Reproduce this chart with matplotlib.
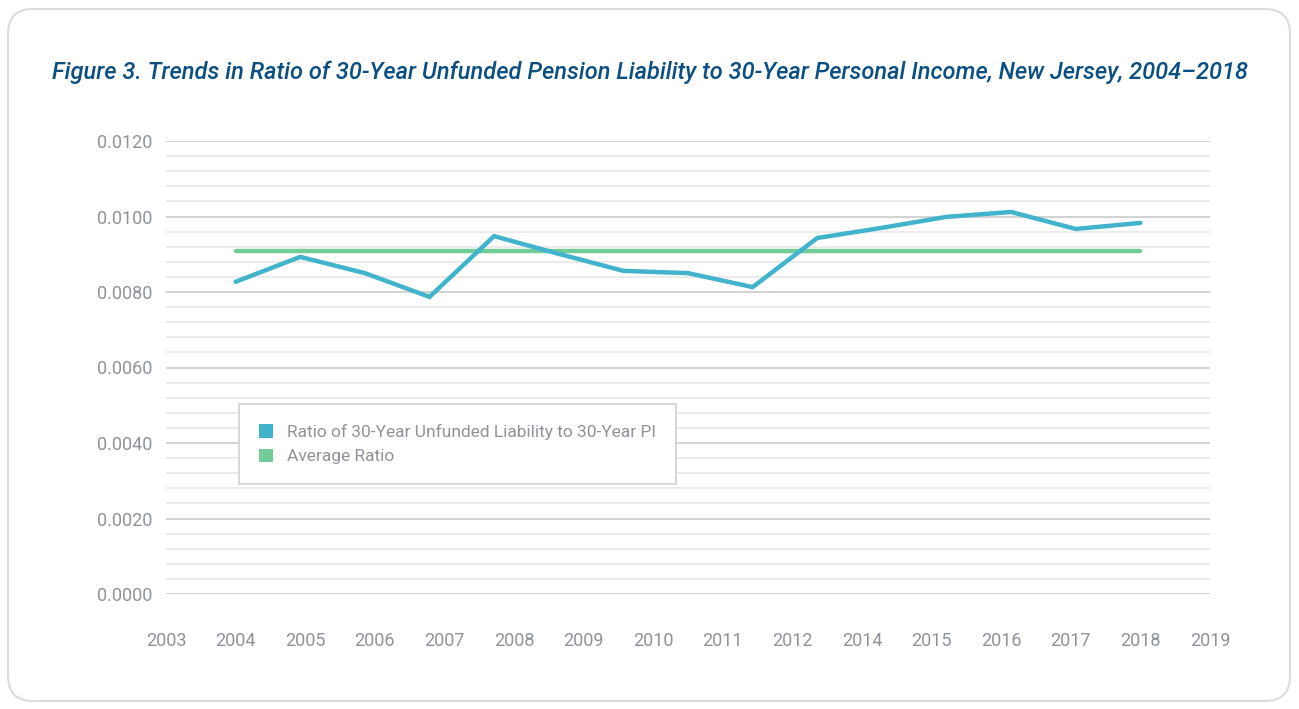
import matplotlib
matplotlib.use("Agg")
import matplotlib.pyplot as plt
import numpy as np
from matplotlib.patches import FancyBboxPatch, Patch

# data
years = [2004, 2005, 2006, 2007, 2008, 2009, 2010, 2011,
         2012, 2013, 2014, 2015, 2016, 2017, 2018]
ratio = [0.00827, 0.00893, 0.00850, 0.00787, 0.00948, 0.00901, 0.00856, 0.00850,
         0.00813, 0.00943, 0.00970, 0.00999, 0.01012, 0.00967, 0.00983]
avg_ratio = 0.00909
tick_labels = ['2003', '2004', '2005', '2006', '2007', '2008', '2009', '2010',
               '2011', '2012', '2014', '2015', '2016', '2017', '2018', '2019']

font = ['Roboto', 'DejaVu Sans']
grey = '#8e939b'
teal = '#41b3ca'
green = '#72cc98'

fig = plt.figure(figsize=(12.99, 7.09), dpi=100)

# rounded frame round the whole figure
frame = FancyBboxPatch((0.08, 0.08), 12.82, 6.92, boxstyle='round,pad=0,rounding_size=0.25',
                       transform=fig.dpi_scale_trans, facecolor='white',
                       edgecolor='#dcdcdc', linewidth=1.5, zorder=-10)
fig.patches.append(frame)

ax = fig.add_axes([166 / 1299, 1 - 594 / 709, 1044 / 1299, 453 / 709])
ax.set_facecolor('none')

# the data line sits on its own even spacing between the 2004 and 2018 ticks
xpos = np.linspace(1, 14, len(years))
ax.plot(xpos, ratio, color=teal, lw=3.2, solid_capstyle='round', solid_joinstyle='miter', zorder=3)
ax.plot(xpos, [avg_ratio] * len(years), color=green, lw=3.2, solid_capstyle='round', zorder=2)

ax.set_xlim(0, 15)
ax.set_ylim(0, 0.012)
ax.set_xticks(np.arange(len(tick_labels)))
ax.set_xticklabels(tick_labels)
ax.set_yticks(np.arange(0, 0.0121, 0.002))
ax.set_yticks(np.arange(0, 0.0121, 0.0004), minor=True)
ax.set_yticklabels(['%.4f' % v for v in np.arange(0, 0.0121, 0.002)])

ax.grid(axis='y', which='major', color='#cbcbcb', lw=1.2, zorder=0)
ax.grid(axis='y', which='minor', color='#e8e8e8', lw=1.2, zorder=0)
ax.grid(axis='x', visible=False)
for s in ax.spines.values():
    s.set_visible(False)
ax.tick_params(axis='both', which='both', length=0)
ax.tick_params(axis='y', pad=10)
ax.tick_params(axis='x', pad=27)
for lab in ax.get_xticklabels() + ax.get_yticklabels():
    lab.set_family(font)
    lab.set_fontsize(13)
    lab.set_color(grey)

handles = [Patch(facecolor=teal, edgecolor='none'), Patch(facecolor=green, edgecolor='none')]
leg = fig.legend(handles, ['Ratio of 30-Year Unfunded Liability to 30-Year PI', 'Average Ratio'],
                 loc='upper left', bbox_to_anchor=(239 / 1299, 1 - 404 / 709), borderaxespad=0,
                 prop={'family': font, 'size': 12.5}, labelcolor=grey,
                 handlelength=0.8, handleheight=0.8, handletextpad=0.8,
                 borderpad=1.15, labelspacing=0.5, fancybox=False, framealpha=1)
leg.get_frame().set_edgecolor('#cfcfcf')
leg.get_frame().set_linewidth(1.2)

fig.text(0.5, 1 - 72 / 709,
         'Figure 3. Trends in Ratio of 30-Year Unfunded Pension Liability to 30-Year Personal Income, New Jersey, 2004\u20132018',
         ha='center', va='center', family=font, fontsize=17, fontstyle='italic',
         fontweight='medium', color='#0b4f82')

fig.savefig('out.png', dpi=100)
